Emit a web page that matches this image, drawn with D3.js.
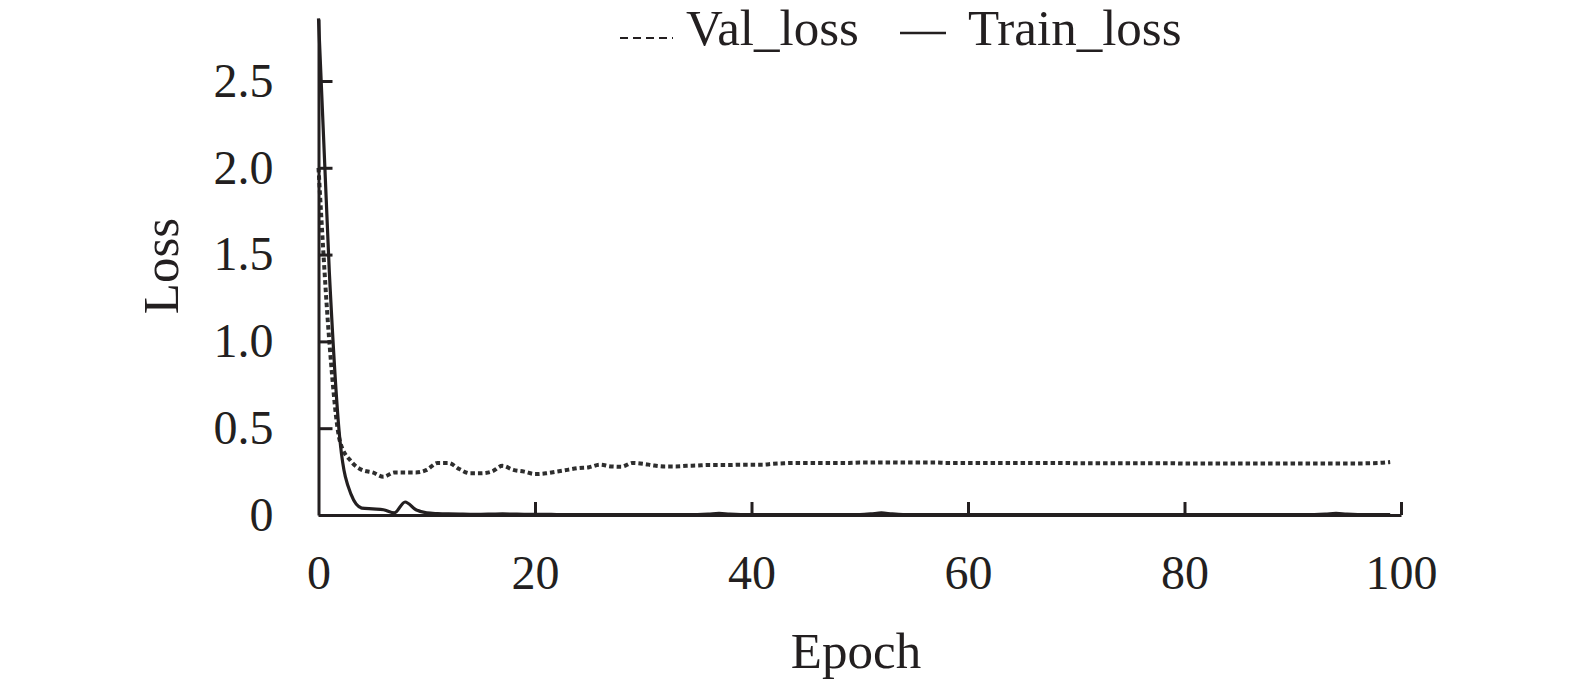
<!DOCTYPE html>
<html>

<head>
  <style>
    body {
      margin: 0;
      background: #fff;
    }
    text {
      font-family: "Liberation Serif", "DejaVu Serif", serif;
      fill: #231f20;
    }
  </style>
</head>

<body>
  <svg width="1575" height="686"></svg>
  <script src="https://d3js.org/d3.v7.min.js"></script>
  <script>

    // values, one per epoch (0..99)
    const trainLoss = [
      2.86, 1.4, 0.42, 0.12, 0.04, 0.035, 0.03, 0.012, 0.075, 0.03,
      0.012, 0.008, 0.006, 0.005, 0.004, 0.004, 0.005, 0.006, 0.005, 0.004,
      0.004, 0.004, 0.003, 0.003, 0.003, 0.003, 0.003, 0.003, 0.003, 0.003,
      0.003, 0.003, 0.003, 0.003, 0.003, 0.003, 0.005, 0.01, 0.005, 0.003,
      0.003, 0.003, 0.003, 0.003, 0.003, 0.003, 0.003, 0.003, 0.003, 0.003,
      0.003, 0.006, 0.012, 0.006, 0.003, 0.003, 0.003, 0.003, 0.003, 0.003,
      0.003, 0.003, 0.003, 0.003, 0.003, 0.003, 0.003, 0.003, 0.003, 0.003,
      0.003, 0.003, 0.003, 0.003, 0.003, 0.003, 0.003, 0.003, 0.003, 0.003,
      0.003, 0.003, 0.003, 0.003, 0.003, 0.003, 0.003, 0.003, 0.003, 0.003,
      0.003, 0.003, 0.003, 0.005, 0.01, 0.005, 0.003, 0.003, 0.003, 0.003
    ];

    const valLoss = [
      2.0, 1.0, 0.42, 0.31, 0.26, 0.245, 0.22, 0.245, 0.245, 0.245,
      0.26, 0.30, 0.30, 0.265, 0.24, 0.24, 0.25, 0.283, 0.26, 0.25,
      0.236, 0.24, 0.25, 0.26, 0.27, 0.275, 0.29, 0.28, 0.278, 0.30,
      0.295, 0.285, 0.28, 0.28, 0.283, 0.285, 0.288, 0.288, 0.288, 0.29,
      0.29, 0.29, 0.295, 0.298, 0.30, 0.30, 0.30, 0.30, 0.30, 0.30,
      0.302, 0.302, 0.303, 0.303, 0.302, 0.302, 0.302, 0.302, 0.30, 0.30,
      0.30, 0.30, 0.30, 0.30, 0.30, 0.30, 0.30, 0.30, 0.30, 0.30,
      0.298, 0.298, 0.298, 0.298, 0.298, 0.298, 0.298, 0.298, 0.298, 0.298,
      0.296, 0.296, 0.296, 0.296, 0.296, 0.296, 0.296, 0.296, 0.296, 0.296,
      0.297, 0.297, 0.297, 0.297, 0.297, 0.297, 0.297, 0.298, 0.30, 0.305
    ];

    const xTicks = [0, 20, 40, 60, 80, 100];
    const yTicks = [0, 0.5, 1.0, 1.5, 2.0, 2.5];

    const ink = "#231f20";

    const svg = d3.select("svg");

    const x = d3.scaleLinear().domain([0, 100]).range([318.5, 1401]);
    const y = d3.scaleLinear().domain([0, 2.857]).range([515, 19]);

    const line = d3.line()
      .x((d, i) => x(i))
      .y(d => y(d))
      .curve(d3.curveMonotoneX);

    // lines
    svg.append("path")
      .datum(valLoss)
      .attr("d", line)
      .attr("fill", "none")
      .attr("stroke", "#2e2e2e")
      .attr("stroke-width", 4)
      .attr("stroke-dasharray", "4.5,3");

    svg.append("path")
      .datum(trainLoss)
      .attr("d", line)
      .attr("fill", "none")
      .attr("stroke", ink)
      .attr("stroke-width", 3.2)
      .attr("stroke-linejoin", "round");

    // axes
    const xAxis = svg.append("g")
      .attr("transform", `translate(0, ${y(0)})`)
      .call(d3.axisBottom(x)
        .tickValues(xTicks)
        .tickSizeInner(-13)
        .tickSizeOuter(0)
        .tickPadding(40)
        .tickFormat(d3.format("d")));

    const yAxis = svg.append("g")
      .attr("transform", `translate(${x(0)}, 0)`)
      .call(d3.axisLeft(y)
        .tickValues(yTicks)
        .tickSizeInner(-14)
        .tickSizeOuter(0)
        .tickPadding(45)
        .tickFormat(d => d === 0 ? "0" : d.toFixed(1)));

    [xAxis, yAxis].forEach(g => {
      g.select(".domain").attr("stroke", ink).attr("stroke-width", 3);
      g.selectAll(".tick line").attr("stroke", ink).attr("stroke-width", 3);
      g.selectAll(".tick text")
        .attr("font-family", "Liberation Serif")
        .attr("font-size", "48px")
        .attr("fill", ink);
    });
    // the 0 tick of x sits on the y axis
    xAxis.selectAll(".tick line").filter(d => d === 0).remove();

    // axis titles
    svg.append("text")
      .attr("x", 856)
      .attr("y", 668)
      .attr("text-anchor", "middle")
      .attr("font-size", "51px")
      .text("Epoch");

    svg.append("text")
      .attr("transform", "translate(178, 266) rotate(-90)")
      .attr("text-anchor", "middle")
      .attr("font-size", "51px")
      .text("Loss");

    // legend
    const legend = svg.append("g");

    legend.append("line")
      .attr("x1", 620).attr("x2", 673)
      .attr("y1", 38).attr("y2", 38)
      .attr("stroke", ink)
      .attr("stroke-width", 2)
      .attr("stroke-dasharray", "8,5");
    legend.append("text")
      .attr("x", 686)
      .attr("y", 45)
      .attr("font-size", "51px")
      .text("Val_loss");

    legend.append("line")
      .attr("x1", 900).attr("x2", 946)
      .attr("y1", 33).attr("y2", 33)
      .attr("stroke", ink)
      .attr("stroke-width", 2.5);
    legend.append("text")
      .attr("x", 968)
      .attr("y", 45)
      .attr("font-size", "51px")
      .text("Train_loss");

  </script>
</body>

</html>
